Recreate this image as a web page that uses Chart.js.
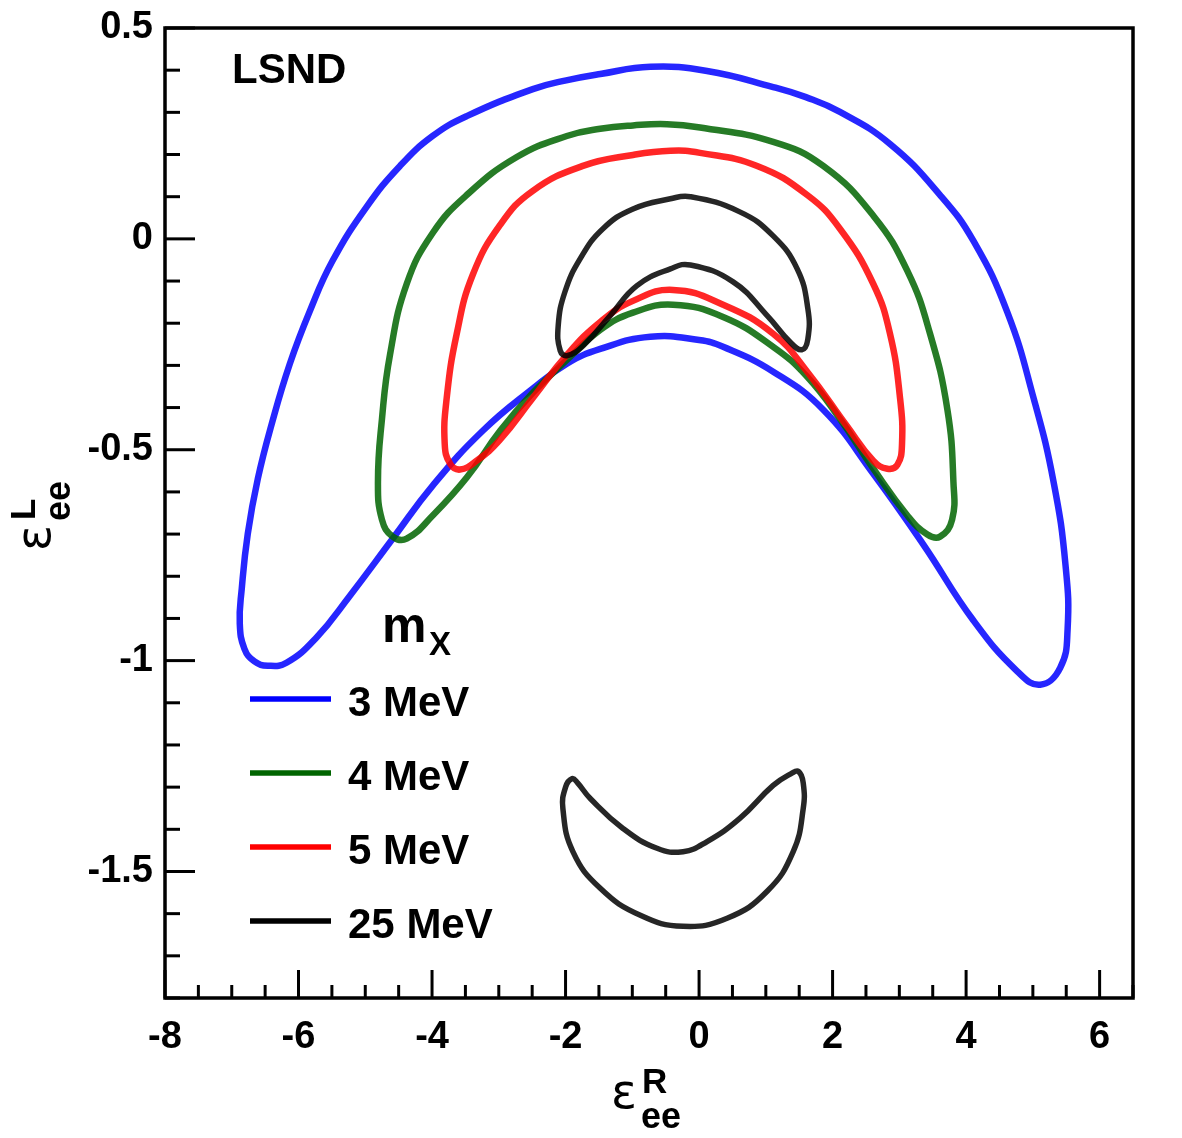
<!DOCTYPE html>
<html><head><meta charset="utf-8">
<script src="https://cdn.jsdelivr.net/npm/chart.js@4.4.1/dist/chart.umd.min.js"></script>
<style>html,body{margin:0;padding:0;background:#fff;} canvas{display:block}</style>
</head><body>
<div style="width:1182px;height:1138px"><canvas id="c" width="1182" height="1138"></canvas></div>
<script>
// ---- tick labels ----
const xTicks = [-8, -6, -4, -2, 0, 2, 4, 6];
const yTicks = [-1.5, -1, -0.5, 0, 0.5];
const legendTitle = 'm';
const legendTitleSub = 'X';
const legendLabels = ['3 MeV', '4 MeV', '5 MeV', '25 MeV'];
const plotLabel = 'LSND';

// ---- 3 MeV contour (closed loop) ----
const mev3X = [-0.73,-1.48,-1.99,-2.49,-3.48,-3.99,-4.48,-4.98,-5.49,-5.83,-6.13,-6.40,-6.61,-6.76,-6.85,-6.88,-6.81,-6.66,-6.46,-6.18,-5.73,-5.23,-4.59,-3.99,-3.24,-2.49,-1.98,-1.48,-0.73,0.0,0.36,1.11,1.86,2.61,3.36,4.11,4.77,5.11,5.41,5.52,5.49,5.31,5.01,4.62,4.11,3.61,2.86,2.11,1.6,1.11,0.12];
const mev3Y = [0.408,0.391,0.376,0.355,0.291,0.244,0.173,0.076,-0.052,-0.171,-0.296,-0.438,-0.569,-0.699,-0.829,-0.912,-0.972,-1.002,-1.012,-1.005,-0.945,-0.846,-0.711,-0.585,-0.455,-0.355,-0.296,-0.261,-0.232,-0.240,-0.256,-0.315,-0.405,-0.557,-0.725,-0.905,-1.026,-1.057,-1.017,-0.927,-0.775,-0.576,-0.377,-0.175,-0.005,0.104,0.225,0.301,0.336,0.360,0.398];

// ---- 4 MeV contour ----
const mev4X = [-0.48,-0.99,-1.48,-1.98,-2.73,-3.48,-3.99,-4.38,-4.63,-4.75,-4.81,-4.75,-4.59,-4.38,-3.99,-3.48,-2.98,-2.49,-1.98,-1.48,-0.99,-0.39,0.36,1.11,1.62,2.11,2.61,3.12,3.42,3.61,3.79,3.81,3.72,3.46,3.12,2.61,1.86,1.11,0.015];
const mev4Y = [0.272,0.269,0.261,0.244,0.194,0.104,0.014,-0.107,-0.275,-0.427,-0.576,-0.666,-0.706,-0.711,-0.656,-0.566,-0.455,-0.365,-0.287,-0.216,-0.175,-0.156,-0.185,-0.256,-0.327,-0.427,-0.545,-0.656,-0.701,-0.706,-0.666,-0.576,-0.405,-0.225,-0.076,0.055,0.173,0.230,0.264];

// ---- 5 MeV contour ----
const mev5X = [-0.43,-0.99,-1.74,-2.49,-2.98,-3.39,-3.63,-3.78,-3.81,-3.73,-3.58,-3.33,-2.98,-2.49,-1.98,-1.48,-0.99,-0.39,0.36,1.11,1.62,2.22,2.61,2.82,2.97,3.04,3.01,2.86,2.61,2.11,1.62,0.87,0.015];
const mev5Y = [0.209,0.199,0.173,0.114,0.033,-0.085,-0.225,-0.377,-0.486,-0.533,-0.547,-0.526,-0.476,-0.377,-0.275,-0.197,-0.147,-0.121,-0.156,-0.225,-0.315,-0.445,-0.526,-0.545,-0.536,-0.486,-0.377,-0.225,-0.107,0.024,0.104,0.173,0.204];

// ---- 25 MeV contours (two islands) ----
const mev25aX = [-0.13,-0.43,-0.99,-1.44,-1.78,-2.01,-2.11,-2.08,-1.98,-1.74,-1.33,-0.93,-0.43,-0.13,0.51,1.02,1.36,1.54,1.63,1.63,1.47,1.11,0.61];
const mev25aY = [0.100,0.095,0.071,0.024,-0.047,-0.126,-0.206,-0.265,-0.277,-0.254,-0.182,-0.111,-0.071,-0.062,-0.102,-0.182,-0.244,-0.263,-0.237,-0.166,-0.071,0.007,0.064];
const mev25bX = [-1.90,-2.00,-2.04,-1.89,-1.48,-0.88,-0.24,0.42,1.02,1.41,1.56,1.56,1.49,1.38,1.11,0.61,0.12,-0.24,-0.63,-1.14,-1.63,-1.82];
const mev25bY = [-1.280,-1.300,-1.351,-1.453,-1.540,-1.604,-1.630,-1.611,-1.547,-1.453,-1.351,-1.290,-1.263,-1.268,-1.296,-1.374,-1.429,-1.453,-1.445,-1.398,-1.327,-1.290];

const lineColors = ['rgba(0,0,255,0.85)', 'rgba(0,100,0,0.85)', 'rgba(255,0,0,0.85)', 'rgba(0,0,0,0.85)'];
const legendColors = ['#0000ff', '#006400', '#ff0000', '#000000'];

function pts(xs, ys) { return xs.map((x, i) => ({ x: x, y: ys[i] })); }

const FONT = '"Liberation Sans", Arial, Helvetica, sans-serif';

function mkSet(label, xs, ys, color, order, w) {
  return { label: label, data: pts(xs, ys), showLine: true, borderColor: color, backgroundColor: color,
    borderWidth: w, pointRadius: 0, pointHoverRadius: 0, tension: 0.45, fill: false, order: order,
    borderCapStyle: 'round', borderJoinStyle: 'round' };
}

// close each contour into a smooth loop
const closeLoops = {
  id: 'closeLoops',
  afterDatasetUpdate(chart, args) {
    const line = args.meta.dataset;
    if (line) { line._loop = true; line._fullLoop = true; }
  }
};

const decor = {
  id: 'decor',
  afterDraw(chart) {
    const ctx = chart.ctx;
    const a = chart.chartArea;
    const xs = chart.scales.x, ys = chart.scales.y;
    ctx.save();
    ctx.strokeStyle = '#000';
    ctx.lineWidth = 3.5;
    ctx.lineCap = 'butt';
    ctx.strokeRect(a.left, a.top, a.right - a.left, a.bottom - a.top);
    ctx.lineWidth = 3;
    for (let k = -18; k <= 5; k++) {
      const p = ys.getPixelForValue(k / 10);
      const major = (k % 5 === 0);
      ctx.beginPath();
      ctx.moveTo(a.left, p);
      ctx.lineTo(a.left + (major ? 30 : 15), p);
      ctx.stroke();
    }
    for (let k = -16; k <= 13; k++) {
      const p = xs.getPixelForValue(k / 2);
      const major = (k % 4 === 0);
      ctx.beginPath();
      ctx.moveTo(p, a.bottom);
      ctx.lineTo(p, a.bottom - (major ? 28 : 13));
      ctx.stroke();
    }
    ctx.fillStyle = '#000';
    ctx.textAlign = 'left';
    ctx.textBaseline = 'alphabetic';
    ctx.font = 'bold 42px ' + FONT;
    ctx.fillText(plotLabel, a.left + 67, a.top + 55);
    ctx.font = 'bold 50px ' + FONT;
    ctx.fillText(legendTitle, a.left + 217, 642);
    ctx.font = 'bold 33px ' + FONT;
    ctx.fillText(legendTitleSub, a.left + 264, 655);
    const ly = [699, 773, 847, 921];
    for (let i = 0; i < legendLabels.length; i++) {
      ctx.strokeStyle = legendColors[i];
      ctx.lineWidth = 5.5;
      ctx.beginPath();
      ctx.moveTo(a.left + 85, ly[i]);
      ctx.lineTo(a.left + 166, ly[i]);
      ctx.stroke();
      ctx.font = 'bold 42px ' + FONT;
      ctx.fillText(legendLabels[i], a.left + 183, ly[i] + 17);
    }
    // x axis title
    ctx.font = '48px "DejaVu Sans", sans-serif';
    ctx.fillText('\u03B5', 611, 1108);
    ctx.font = 'bold 35px ' + FONT;
    ctx.fillText('R', 642, 1093);
    ctx.font = 'bold 36px ' + FONT;
    ctx.fillText('ee', 641, 1128);
    // y axis title (rotated)
    ctx.translate(50, 551);
    ctx.rotate(-Math.PI / 2);
    ctx.font = '48px "DejaVu Sans", sans-serif';
    ctx.fillText('\u03B5', 0, 0);
    ctx.font = 'bold 35px ' + FONT;
    ctx.fillText('L', 31, -15);
    ctx.font = 'bold 36px ' + FONT;
    ctx.fillText('ee', 30, 20);
    ctx.restore();
  }
};

new Chart(document.getElementById('c'), {
  type: 'line',
  data: {
    datasets: [
      mkSet('3 MeV', mev3X, mev3Y, lineColors[0], 4, 6.5),
      mkSet('4 MeV', mev4X, mev4Y, lineColors[1], 3, 6.5),
      mkSet('5 MeV', mev5X, mev5Y, lineColors[2], 2, 6.5),
      mkSet('25 MeV', mev25aX, mev25aY, lineColors[3], 1, 5.5),
      mkSet('25 MeV b', mev25bX, mev25bY, lineColors[3], 1, 5.5)
    ]
  },
  options: {
    responsive: false,
    animation: false,
    devicePixelRatio: 1,
    layout: { padding: { top: 28, right: 49, left: 0, bottom: 0 } },
    plugins: { legend: { display: false }, tooltip: { enabled: false } },
    events: [],
    scales: {
      x: {
        type: 'linear', min: -8, max: 6.5,
        grid: { display: false, drawTicks: false },
        border: { display: false },
        afterBuildTicks: s => { s.ticks = xTicks.map(v => ({ value: v })); },
        afterFit: s => { s.height = 140; s.paddingLeft = 0; s.paddingRight = 0; },
        ticks: { color: '#000', padding: 17, maxRotation: 0, font: { family: FONT, size: 38, weight: 'bold' },
          callback: v => String(v) }
      },
      y: {
        type: 'linear', min: -1.8, max: 0.5,
        grid: { display: false, drawTicks: false },
        border: { display: false },
        afterBuildTicks: s => { s.ticks = yTicks.map(v => ({ value: v })); },
        afterFit: s => { s.width = 165; s.paddingTop = 0; s.paddingBottom = 0; },
        ticks: { color: '#000', padding: 12, font: { family: FONT, size: 38, weight: 'bold' },
          callback: v => String(v) }
      }
    }
  },
  plugins: [closeLoops, decor]
});
</script>
</body></html>
